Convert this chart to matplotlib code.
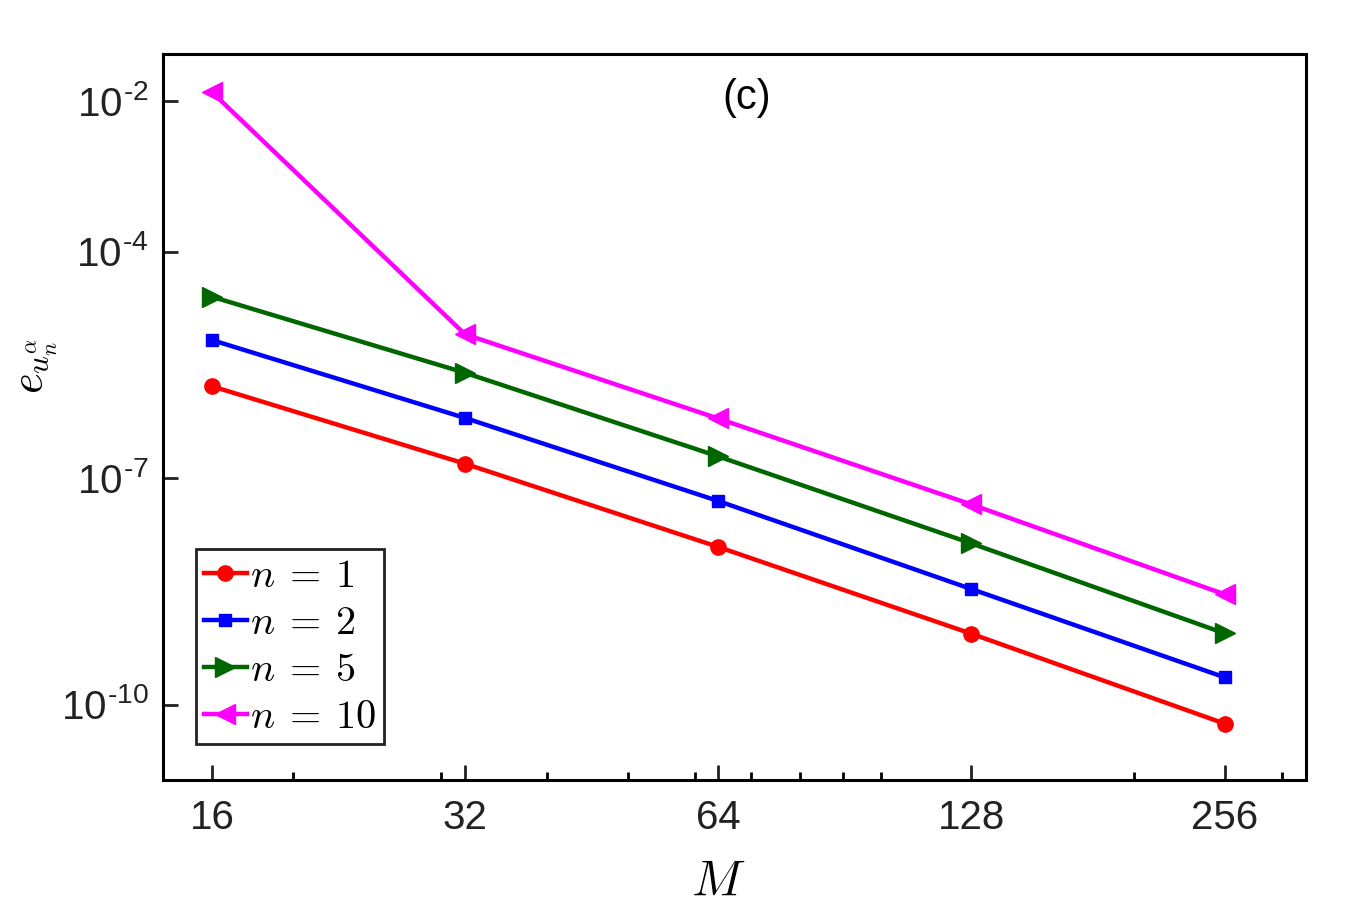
import numpy as np
import matplotlib
matplotlib.use("Agg")
import matplotlib.pyplot as plt
from matplotlib.ticker import FixedLocator, FixedFormatter, NullFormatter

plt.rcParams['font.family'] = ['Liberation Sans', 'DejaVu Sans']
plt.rcParams['mathtext.fontset'] = 'cm'

# data
M = [16, 32, 64, 128, 256]
err_n1 = [1.66e-6, 1.56e-7, 1.23e-8, 8.7e-10, 5.6e-11]
err_n2 = [6.8e-6, 6.3e-7, 5.0e-8, 3.4e-9, 2.3e-10]
err_n5 = [2.55e-5, 2.5e-6, 1.95e-7, 1.37e-8, 8.8e-10]
err_n10 = [1.32e-2, 8.1e-6, 6.2e-7, 4.5e-8, 2.9e-9]

x_ticks = [16, 32, 64, 128, 256]
x_minor = [20, 30, 40, 50, 60, 70, 80, 90, 100, 200, 300]
y_ticks = [1e-10, 1e-7, 1e-4, 1e-2]
y_exps = ['-10', '-7', '-4', '-2']
# plain hyphen in the exponent, like the original
y_labels = ['10$^{\\mathregular{\u2010' + e[1:] + '}}$' for e in y_exps]

fig = plt.figure(figsize=(13.6, 9.07), dpi=100)
ax = fig.add_axes([0.1199, 0.14, 0.8404, 0.8004])

ax.plot(M, err_n1, '-o', color=(1, 0, 0), lw=3.2, ms=11, label=r'$n\:=\:1$')
ax.plot(M, err_n2, '-s', color=(0, 0, 1), lw=3.2, ms=8.5, label=r'$n\:=\:2$')
ax.plot(M, err_n5, '->', color=(0, 0.4, 0), lw=3.2, ms=15, label=r'$n\:=\:5$')
ax.plot(M, err_n10, '-<', color=(1, 0, 1), lw=3.2, ms=15, label=r'$n\:=\:10$')

ax.set_xscale('log')
ax.set_yscale('log')
ax.set_xlim(14, 320)
ax.set_ylim(1e-11, 0.042)

ax.xaxis.set_major_locator(FixedLocator(x_ticks))
ax.xaxis.set_major_formatter(FixedFormatter([str(v) for v in x_ticks]))
ax.xaxis.set_minor_locator(FixedLocator(x_minor))
ax.xaxis.set_minor_formatter(NullFormatter())
ax.yaxis.set_major_locator(FixedLocator(y_ticks))
ax.yaxis.set_major_formatter(FixedFormatter(y_labels))
ax.yaxis.set_minor_locator(FixedLocator([]))

ax.tick_params(which='major', direction='in', length=11, width=2, labelsize=29,
               colors='#222222')
ax.tick_params(axis='x', which='major', pad=14)
ax.tick_params(axis='y', which='major', pad=10)
ax.tick_params(which='minor', direction='in', length=6, width=2)
for sp in ax.spines.values():
    sp.set_linewidth(2.2)

ax.set_xlabel('$M$', fontsize=36)
ax.xaxis.set_label_coords(0.486, -0.108)
ax.set_ylabel(r'$e_{u_n^{\alpha}}$', fontsize=32)
ax.yaxis.set_label_coords(-0.09, 0.57)

ax.text(0.511, 0.94, '(c)', transform=ax.transAxes, ha='center', va='center',
        fontsize=30)

leg = ax.legend(loc='lower left', bbox_to_anchor=(0.029, 0.05), fontsize=29,
                handlelength=1.05, handletextpad=0.08, borderpad=0.2,
                labelspacing=0.22, fancybox=False, framealpha=1,
                borderaxespad=0)
leg.get_frame().set_edgecolor('#222222')
leg.get_frame().set_linewidth(2)

fig.savefig('out.png', dpi=100)
